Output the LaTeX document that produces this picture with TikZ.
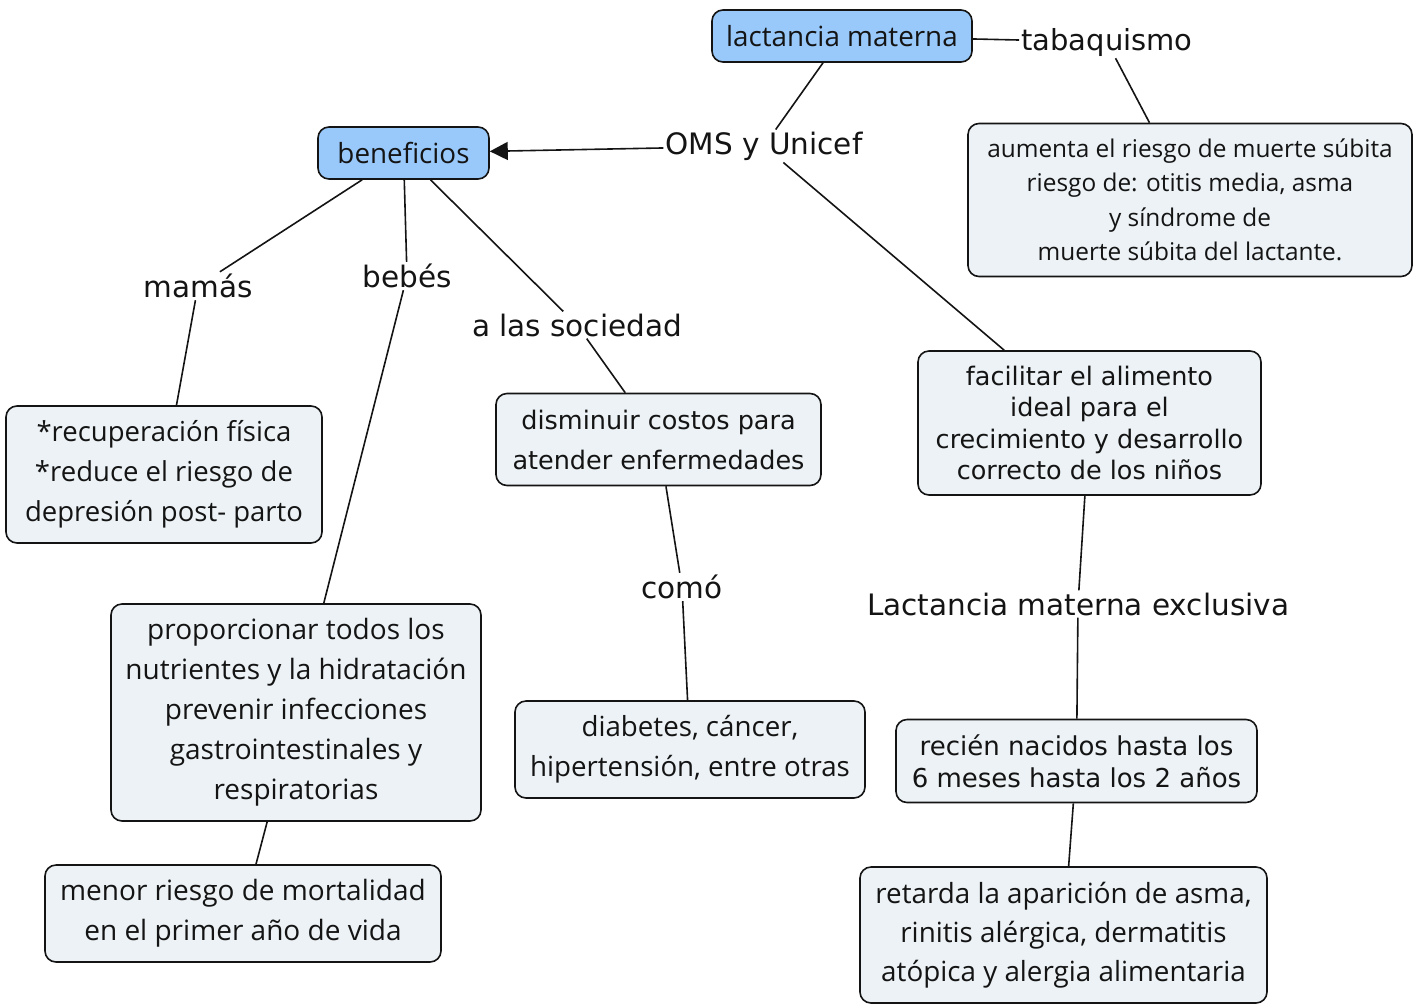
\documentclass[tikz,border=0pt]{standalone}
\usepackage{fontspec}
\setmainfont{Open Sans}
\newfontfamily\verd{DejaVu Sans}
\usetikzlibrary{arrows.meta}
\definecolor{bluefill}{RGB}{153,201,250}
\definecolor{greyfill}{RGB}{236,242,245}
\definecolor{ink}{RGB}{20,20,20}
\tikzset{
  box/.style={draw=ink, line width=1.6pt, rounded corners=11pt, align=center, inner sep=0pt, text=ink},
  bluebox/.style={box, fill=bluefill},
  greybox/.style={box, fill=greyfill},
  lbl/.style={inner sep=2pt, text=ink, font=\verd\fontsize{29.5}{34}\selectfont},
  conn/.style={draw=ink, line width=1.6pt},
}
\begin{document}
\begin{tikzpicture}[x=1pt,y=-1pt]
\useasboundingbox (0,0) rectangle (1424,1005);
% concept boxes
\node[bluebox, minimum width=260pt, minimum height=52pt, font=\fontsize{27.8}{32}\selectfont] (lm) at (842,36) {lactancia materna};
\node[bluebox, minimum width=171pt, minimum height=52pt, font=\fontsize{27.8}{32}\selectfont] (ben) at (403.5,153) {beneficios};
\node[greybox, minimum width=444pt, minimum height=153pt, font=\fontsize{24.4}{34.5}\selectfont] (tabbox) at (1190,200) {aumenta el riesgo de muerte súbita\\riesgo de: otitis media, asma\\y síndrome de\\muerte súbita del lactante.};
\node[greybox, minimum width=316pt, minimum height=137pt, font=\fontsize{27.5}{40}\selectfont] (recup) at (164,474.5) {*recuperación física\\*reduce el riesgo de\\depresión post- parto};
\node[greybox, minimum width=325pt, minimum height=92pt, font=\verd\fontsize{25.5}{40}\selectfont] (dism) at (658.5,439.5) {disminuir costos para\\atender enfermedades};
\node[greybox, minimum width=350pt, minimum height=97pt, font=\fontsize{27.7}{40}\selectfont] (diab) at (690,749.5) {diabetes, cáncer,\\hipertensión, entre otras};
\node[greybox, minimum width=370pt, minimum height=217pt, font=\fontsize{28}{40}\selectfont] (prop) at (296,712.5) {proporcionar todos los\\nutrientes y la hidratación\\prevenir infecciones\\gastrointestinales y\\respiratorias};
\node[greybox, minimum width=396pt, minimum height=97pt, font=\fontsize{28}{40}\selectfont] (menor) at (243,913.5) {menor riesgo de mortalidad\\en el primer año de vida};
\node[greybox, minimum width=343pt, minimum height=144pt, font=\verd\fontsize{25.5}{31.5}\selectfont] (facil) at (1089.5,423) {facilitar el alimento\\ideal para el\\crecimiento y desarrollo\\correcto de los niños};
\node[greybox, minimum width=361pt, minimum height=83pt, font=\verd\fontsize{26}{32}\selectfont] (recien) at (1076.5,761) {recién nacidos hasta los\\6 meses hasta los 2 años};
\node[greybox, minimum width=407pt, minimum height=136pt, font=\fontsize{27.8}{39}\selectfont] (retarda) at (1063.5,935) {retarda la aparición de asma,\\rinitis alérgica, dermatitis\\atópica y alergia alimentaria};
% linking phrases
\node[lbl, font=\verd\fontsize{29}{34}\selectfont] (tab) at (1107,42) {tabaquismo};
\node[lbl] (oms) at (764,146) {OMS y Unicef};
\node[lbl] (mamas) at (198,286) {mamás};
\node[lbl] (bebes) at (407,276) {bebés};
\node[lbl] (soc) at (577,325) {a las sociedad};
\node[lbl] (como) at (682,587) {comó};
\node[lbl] (lme) at (1078,604) {Lactancia materna exclusiva};
% connectors
\draw[conn] (lm) -- (tab);
\draw[conn] (tab) -- (tabbox);
\draw[conn] (lm) -- (oms);
\draw[conn, -{Triangle[length=18pt,width=18pt]}] (oms) -- (ben);
\draw[conn] (oms) -- (facil);
\draw[conn] (ben) -- (mamas);
\draw[conn] (mamas) -- (recup);
\draw[conn] (ben) -- (bebes);
\draw[conn] (bebes) -- (prop);
\draw[conn] (ben) -- (soc);
\draw[conn] (soc) -- (dism);
\draw[conn] (dism) -- (como);
\draw[conn] (como) -- (diab);
\draw[conn] (prop) -- (menor);
\draw[conn] (facil) -- (lme);
\draw[conn] (lme) -- (recien);
\draw[conn] (recien) -- (retarda);
\end{tikzpicture}
\end{document}
